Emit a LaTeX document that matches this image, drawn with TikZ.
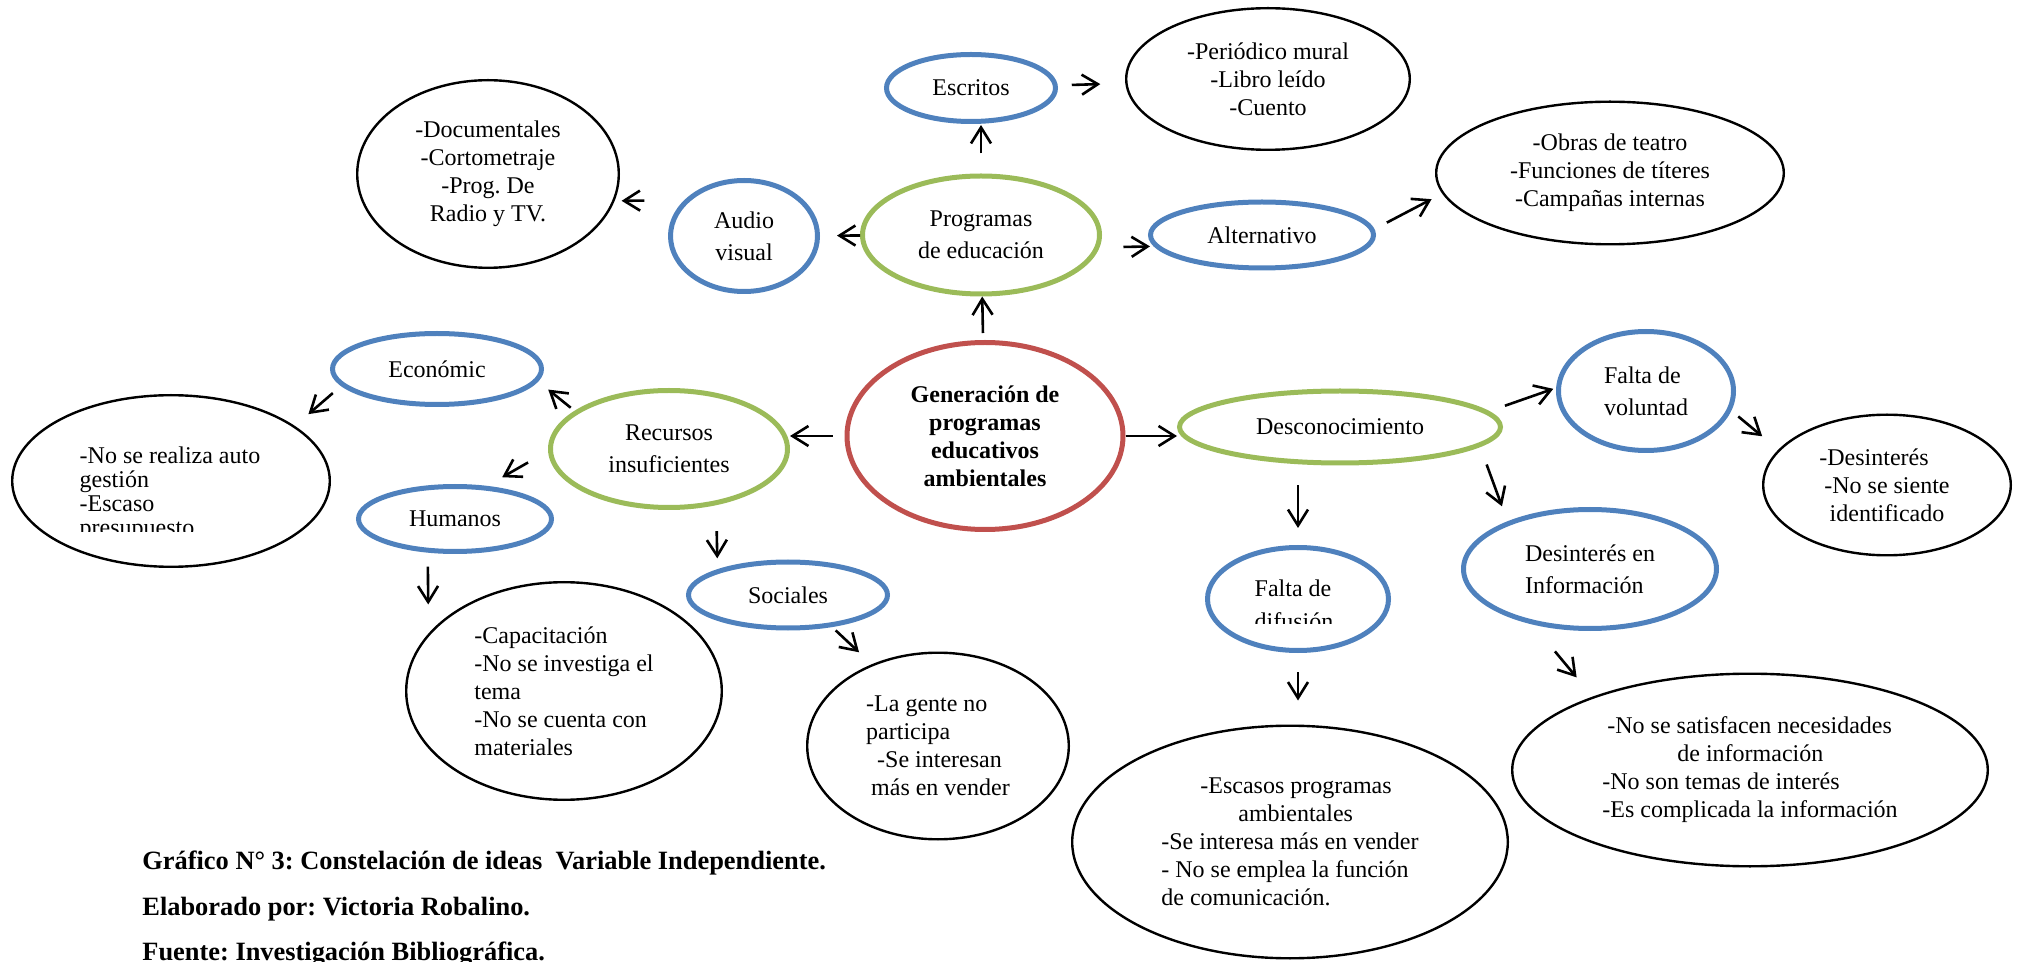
\documentclass[tikz,border=0pt]{standalone}
\usepackage{fontspec}
\setmainfont{Liberation Serif}
\usetikzlibrary{shapes.geometric,arrows.meta}
\definecolor{ideablue}{HTML}{4F81BD}
\definecolor{ideagreen}{HTML}{9BBB59}
\definecolor{ideared}{HTML}{C0504D}
\frenchspacing
\tikzset{
    idea/.style={ellipse, draw, inner sep=0pt, align=center, font=\fontsize{12}{14}\selectfont},
    dims/.style 2 args={minimum width=#1pt, minimum height=#2pt},
    blackbox/.style={idea, line width=1.2pt},
    bluebox/.style={idea, draw=ideablue, line width=2.5pt, font=\fontsize{12}{16}\selectfont},
    greenbox/.style={idea, draw=ideagreen, line width=2.5pt, font=\fontsize{12}{16}\selectfont},
    redbox/.style={idea, draw=ideared, line width=2.5pt, font=\fontsize{12}{14}\selectfont\bfseries},
    arr/.style={-{Straight Barb[length=8pt,width=10pt]}, line width=1.3pt},
    shortby/.style 2 args={shorten <=#1pt, shorten >=#2pt},
    caption/.style={anchor=base west, inner sep=0pt, font=\fontsize{13.2}{15}\selectfont\bfseries},
}
\begin{document}
\begin{tikzpicture}[x=0.5pt, y=-0.5pt]
    \useasboundingbox (0,0) rectangle (2020,962);

    \node[redbox, dims={138}{93.5}] (gen) at (985,436) {Generación de\\programas\\educativos\\ambientales};

    \node[greenbox, dims={118.5}{59}] (prog) at (981,235) {Programas\\de educación};
    \node[bluebox, dims={84.5}{33.5}] (escr) at (971,88) {Escritos};
    \node[blackbox, dims={141.8}{70.8}] (peri) at (1268,79) {-Periódico mural\\-Libro leído\\-Cuento};
    \node[bluebox, dims={73.5}{55.5}] (audio) at (744,236) {Audio\\visual};
    \node[blackbox, dims={130.8}{93.8}] (docu) at (488,174) {-Documentales\\-Cortometraje\\-Prog. De\\Radio y TV.};
    \node[bluebox, dims={111.5}{33}] (alt) at (1262,235) {Alternativo};
    \node[blackbox, dims={173.8}{71.3}] (obras) at (1610,173) {-Obras de teatro\\-Funciones de títeres\\-Campañas internas};

    \node[greenbox, dims={118.5}{58.5}] (rec) at (669,449) {Recursos\\insuficientes};
    \node[bluebox, dims={104.5}{35.5}] (econ) at (437,369) {Económic};
    \node[blackbox, dims={158.8}{85.8}] (norea) at (171,481) {};
    \node[bluebox, dims={96.5}{32.5}] (hum) at (455,519) {Humanos};
    \node[blackbox, dims={157.8}{108.8}, align=left] (capac) at (564,691) {-Capacitación\\-No se investiga el\\tema\\-No se cuenta con\\materiales};
    \node[bluebox, dims={99.5}{33}] (soc) at (788,595) {Sociales};
    \node[blackbox, dims={130.8}{93.3}, align=left] (gente) at (938,746) {-La gente no\\participa\\\hspace*{5.5pt}-Se interesan\\\hspace*{2.5pt}más en vender};

    \node[greenbox, dims={160.5}{36}] (desc) at (1340,427) {Desconocimiento};
    \node[bluebox, dims={87.5}{59.5}, align=left] (falvol) at (1646,391) {Falta de\\voluntad};
    \node[blackbox, dims={123.8}{70.3}] (desint) at (1887,485) {-Desinterés\rule{13pt}{0pt}\\-No se siente\\identificado};
    \node[bluebox, dims={90.5}{51.5}] (difus) at (1298,599) {};
    \node[bluebox, dims={126.5}{59.5}, align=left] (desinf) at (1590,569) {Desinterés en\\Información};
    \node[blackbox, dims={217.8}{116.3}, align=left] (escas) at (1290,842) {\hspace*{19.5pt}-Escasos programas\\\hspace*{38.5pt}ambientales\\-Se interesa más en vender\\- No se emplea la función\\de comunicación.};
    \node[blackbox, dims={237.8}{96.3}, align=left] (satis) at (1750,770) {\hspace*{2.5pt}-No se satisfacen necesidades\\\hspace*{37.5pt}de información\\-No son temas de interés\\-Es complicada la información};

    \begin{scope}
        \clip (0,380) rectangle (340,532);
        \node[font=\fontsize{12}{12}\selectfont, align=left, inner sep=0pt] (noreatxt) at (170,494) {-No se realiza auto\\gestión\\-Escaso\\presupuesto};
    \end{scope}
    \begin{scope}
        \clip (1200,540) rectangle (1400,624);
        \node[font=\fontsize{12}{16.5}\selectfont, align=left, inner sep=0pt] (difustxt) at (1294,605) {Falta de\\difusión};
    \end{scope}

    \draw[arr, shortby={10}{0.5}] (prog.north) -- (prog.north |- escr.south);
    \draw[arr, shortby={7}{12.5}] (escr) -- (peri);
    \draw[arr, shortby={0}{8.5}] (prog) -- (audio);
    \draw[arr, shortby={20}{3.5}] (audio.149) -- (docu.-12);
    \draw[arr, shortby={12}{2}] (prog.-6) -- (alt.186);
    \draw[arr, shortby={7}{6}] (alt.3) -- (obras.187);
    \draw[arr, shortby={3.5}{0}] (gen) -- (prog);
    \draw[arr, shortby={6}{0}] (gen.west) -- (gen.west -| rec.east);
    \draw[arr] (gen.east) -- (gen.east -| desc.west);
    \draw[arr, shortby={8.5}{1.5}] (desc.6) -- (falvol.178);
    \draw[arr, shortby={4.5}{10.5}] (falvol.-13) -- (desint.162);
    \draw[arr, shortby={10}{8.5}] (desc.south -| difus.north) -- (difus.north);
    \draw[arr, shortby={9.5}{8}] (desc.-8) -- (desinf.150);
    \draw[arr, shortby={9.5}{12}] (difus.south) -- (difus.south |- escas.north);
    \draw[arr, shortby={17.5}{12.5}] (desinf.-136) -- (satis.155);
    \draw[arr, shortby={2.5}{6.5}] (rec.158) -- (econ.-7);
    \draw[arr, shortby={5.5}{9}] (econ.190) -- (norea.24);
    \draw[arr, shortby={11.5}{8.75}] (rec.181) -- (hum.46);
    \draw[arr, shortby={13}{5.5}] (rec.-50) -- (soc.160);
    \draw[arr, shortby={7}{14.5}] (hum.-129) -- (capac.157);
    \draw[arr, shortby={2.5}{8.75}] (soc.-36) -- (gente.129);

    \node[caption] (cap1) at (142,869) {Gráfico N° 3: Constelación de ideas\ \ Variable Independiente.};
    \node[caption] (cap2) at (142,915) {Elaborado por: Victoria Robalino.};
    \node[caption] (cap3) at (142,960) {Fuente: Investigación Bibliográfica.};
\end{tikzpicture}
\end{document}
